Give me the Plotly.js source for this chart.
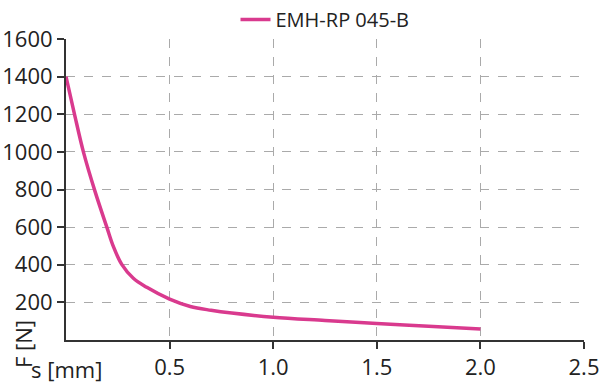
<!DOCTYPE html>
<html><head><meta charset="utf-8">
<script src="https://cdn.plot.ly/plotly-3.0.1.min.js"></script>
<style>html,body{margin:0;padding:0;background:#fff}#chart{width:600px;height:386px}</style>
</head><body><div id="chart"></div>
<script>
const seriesName = "EMH-RP 045-B";
const sValues = [0, 0.04, 0.084, 0.14, 0.197, 0.229, 0.269, 0.325, 0.39, 0.5, 0.6, 0.7, 0.8, 1.0, 1.25, 1.5, 1.75, 2.0];
const fValues = [1400, 1205, 1000, 790, 600, 496, 402, 328, 280, 217, 178, 158, 143, 121, 104, 88, 73, 58];
const xTickVals = [0.5, 1.0, 1.5, 2.0, 2.5];
const xTickText = ["0.5", "1.0", "1.5", "2.0", "2.5"];
const yTickVals = [200, 400, 600, 800, 1000, 1200, 1400, 1600];
const yTickText = ["200", "400", "600", "800", "1000", "1200", "1400", "1600"];
const xTitle = "s [mm]";
const yTitle = "F [N]";

const fontFam = "Open Sans, sans-serif";
const trace = {
  x: sValues, y: fValues, type: "scatter", mode: "lines", name: seriesName,
  line: {color: "#d93a8e", width: 3.5, shape: "spline", smoothing: 1}
};
const layout = {
  width: 600, height: 386,
  margin: {l: 66, r: 16, t: 38, b: 46},
  paper_bgcolor: "#fff", plot_bgcolor: "#fff",
  font: {family: fontFam, size: 22, color: "#222"},
  showlegend: true,
  legend: {orientation: "h", x: 0.5, xanchor: "center", y: 1.0, yanchor: "top", yref: "container",
           font: {size: 20, color: "#222"}, itemwidth: 30, tracegroupgap: 0,
           bgcolor: "rgba(0,0,0,0)"},
  xaxis: {range: [0, 2.5], tickvals: xTickVals, ticktext: xTickText, showgrid: true,
          gridcolor: "#aaa", griddash: "dash", gridwidth: 1, zeroline: false,
          showline: true, linecolor: "#333", linewidth: 2, ticks: "outside", ticklen: 7,
          tickcolor: "#333", tickwidth: 2, fixedrange: true},
  yaxis: {range: [0, 1600], tickvals: yTickVals, ticktext: yTickText, showgrid: true,
          gridcolor: "#aaa", griddash: "dash", gridwidth: 1, zeroline: false,
          showline: true, linecolor: "#333", linewidth: 2, ticks: "outside", ticklen: 7,
          tickcolor: "#333", tickwidth: 2, fixedrange: true},
  annotations: [
    {text: xTitle, xref: "paper", yref: "paper", x: 0, y: 0, xanchor: "center", yanchor: "top",
     yshift: -12, showarrow: false, font: {size: 22, color: "#222"}},
    {text: yTitle, xref: "paper", yref: "paper", x: 0, y: 0, xanchor: "right", yanchor: "middle",
     xshift: -26, yshift: -4, textangle: -90, showarrow: false, font: {size: 22, color: "#222"}}
  ]
};
Plotly.newPlot("chart", [trace], layout, {displayModeBar: false, staticPlot: true});
</script></body></html>
